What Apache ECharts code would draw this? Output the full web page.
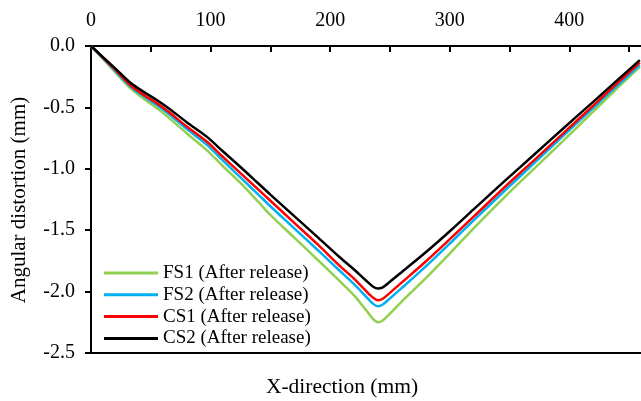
<!DOCTYPE html>
<html>
<head>
<meta charset="utf-8">
<script src="https://cdn.jsdelivr.net/npm/echarts@6/dist/echarts.min.js"></script>
<style>
  html, body { margin: 0; padding: 0; background: #fff; }
  #chart { width: 641px; height: 401px; }
</style>
</head>
<body>
<div id="chart"></div>
<script>
// Measurement positions along the weld line (mm)
const xPos = [0, 10, 20, 33, 45, 55, 64, 80, 97, 110, 125, 140, 150, 170, 190, 208, 220, 230, 236, 240, 244, 250, 260, 280, 301, 320, 347, 370, 394, 420, 440, 459];

// Angular distortion after release (mm)
const fs1 = [0, -0.105, -0.21, -0.345, -0.435, -0.505, -0.575, -0.71, -0.85, -0.975, -1.115, -1.27, -1.375, -1.56, -1.745, -1.915, -2.03, -2.15, -2.225, -2.25, -2.235, -2.18, -2.08, -1.89, -1.68, -1.485, -1.22, -1.005, -0.78, -0.535, -0.345, -0.17];
const fs2 = [0, -0.10, -0.20, -0.33, -0.415, -0.48, -0.545, -0.675, -0.805, -0.93, -1.07, -1.21, -1.305, -1.485, -1.665, -1.83, -1.94, -2.04, -2.10, -2.12, -2.105, -2.055, -1.97, -1.795, -1.60, -1.42, -1.17, -0.96, -0.74, -0.505, -0.325, -0.155];
const cs1 = [0, -0.095, -0.19, -0.32, -0.405, -0.465, -0.53, -0.655, -0.78, -0.90, -1.035, -1.17, -1.26, -1.44, -1.62, -1.79, -1.895, -1.995, -2.05, -2.07, -2.058, -2.01, -1.925, -1.755, -1.565, -1.39, -1.14, -0.935, -0.72, -0.485, -0.305, -0.135];
const cs2 = [0, -0.09, -0.18, -0.30, -0.38, -0.44, -0.50, -0.62, -0.74, -0.855, -0.985, -1.12, -1.21, -1.385, -1.56, -1.72, -1.82, -1.91, -1.96, -1.975, -1.965, -1.92, -1.84, -1.68, -1.50, -1.33, -1.09, -0.89, -0.68, -0.455, -0.28, -0.115];

const seriesNames = ['FS1 (After release)', 'FS2 (After release)', 'CS1 (After release)', 'CS2 (After release)'];
const seriesColors = ['#92D050', '#00B0F0', '#FF0000', '#000000'];
const seriesValues = [fs1, fs2, cs1, cs2];

const xTickLabels = [0, 100, 200, 300, 400];
const yTickLabels = ['0.0', '-0.5', '-1.0', '-1.5', '-2.0', '-2.5'];

const FONT = '"Liberation Serif", "Times New Roman", serif';
const chart = echarts.init(document.getElementById('chart'), null, { renderer: 'canvas' });

const pairs = vals => xPos.map((x, i) => [x, vals[i]]);

chart.setOption({
  animation: false,
  backgroundColor: '#fff',
  grid: { left: 91, top: 46, width: 550, height: 307, containLabel: false },
  xAxis: [{
    type: 'value',
    position: 'top',
    min: 0, max: 460, interval: 50,
    axisLine: { show: true, onZero: false, lineStyle: { color: '#000', width: 2 } },
    axisTick: { show: true, inside: true, length: 6, lineStyle: { color: '#000', width: 2 } },
    axisLabel: {
      margin: 15,
      color: '#000', fontFamily: FONT, fontSize: 20,
      formatter: v => (xTickLabels.indexOf(v) >= 0 ? String(v) : ''),
      showMaxLabel: false
    },
    splitLine: { show: false }
  }, {
    type: 'value',
    position: 'bottom',
    min: 0, max: 460,
    axisLine: { show: true, onZero: false, lineStyle: { color: '#000', width: 2 } },
    axisTick: { show: false },
    axisLabel: { show: false },
    splitLine: { show: false }
  }],
  yAxis: {
    type: 'value',
    min: -2.5, max: 0, interval: 0.5,
    axisLine: { show: true, onZero: false, lineStyle: { color: '#000', width: 2 } },
    axisTick: { show: true, inside: false, length: 6, lineStyle: { color: '#000', width: 2 } },
    axisLabel: {
      margin: 16,
      color: '#000', fontFamily: FONT, fontSize: 20,
      formatter: v => yTickLabels.find(t => Math.abs(parseFloat(t) - v) < 1e-6) || ''
    },
    splitLine: { show: false }
  },
  legend: {
    orient: 'vertical',
    left: 99, top: 258,
    itemWidth: 54, itemHeight: 3,
    itemGap: 1.8,
    icon: 'rect',
    textStyle: { color: '#000', fontFamily: FONT, fontSize: 19, lineHeight: 20, padding: [0, 0, 0, 0] },
    data: seriesNames
  },
  graphic: [{
    type: 'text',
    x: 342, y: 387,
    style: {
      text: 'X-direction (mm)',
      align: 'center', verticalAlign: 'middle',
      fill: '#000', font: '21.5px ' + FONT
    }
  }, {
    type: 'text',
    rotation: Math.PI / 2,
    x: 19, y: 200,
    style: {
      text: 'Angular distortion (mm)',
      align: 'center', verticalAlign: 'middle',
      fill: '#000', font: '21px ' + FONT
    }
  }],
  series: seriesNames.map((name, i) => ({
    name,
    type: 'line',
    xAxisIndex: 0,
    data: pairs(seriesValues[i]),
    showSymbol: false,
    symbol: 'none',
    smooth: 0.3,
    lineStyle: { color: seriesColors[i], width: 2.5 },
    itemStyle: { color: seriesColors[i] },
    z: 2 + i
  }))
});
</script>
</body>
</html>
